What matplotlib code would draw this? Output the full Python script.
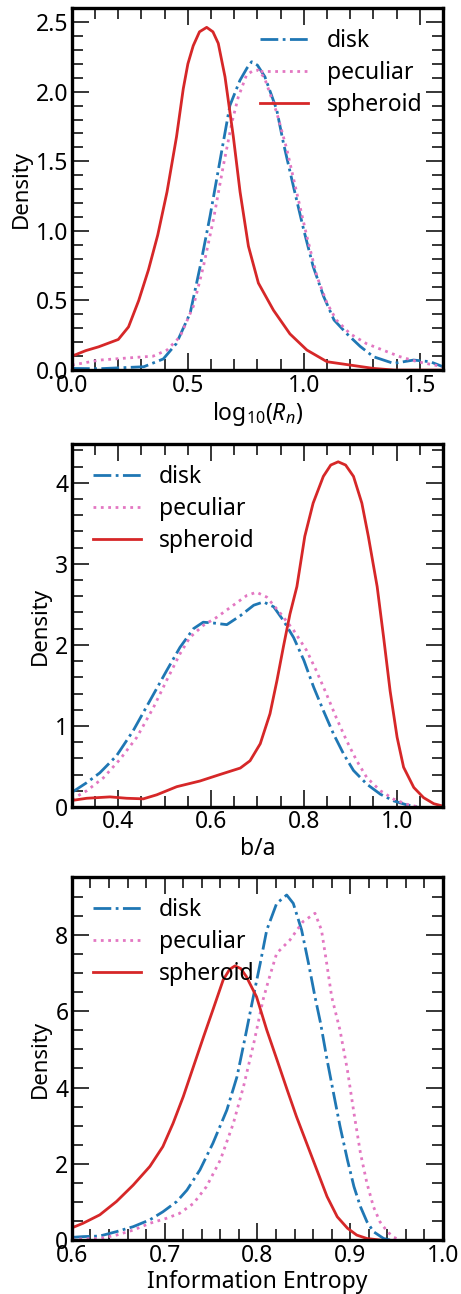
import matplotlib
matplotlib.use("Agg")
import matplotlib.pyplot as plt
from matplotlib.ticker import MultipleLocator, FormatStrFormatter

plt.rcParams['font.family'] = ['Noto Sans', 'DejaVu Sans']
plt.rcParams['mathtext.fontset'] = 'custom'
plt.rcParams['mathtext.rm'] = 'Noto Sans'
plt.rcParams['mathtext.it'] = 'Noto Sans:italic'

labels = ["disk", "peculiar", "spheroid"]
colors = ["#1f77b4", "#e377c2", "#d62728"]
styles = ["-.", ":", "-"]

# Panel 1: log10(Rn)
rn_sph_x = [0.0, 0.06, 0.115, 0.2, 0.244, 0.288, 0.33, 0.37, 0.41, 0.451, 0.48, 0.50, 0.523, 0.55, 0.581, 0.608, 0.631, 0.66, 0.696, 0.725, 0.761, 0.804, 0.869, 0.94, 1.013, 1.1, 1.2, 1.3, 1.39, 1.6]
rn_sph_y = [0.10, 0.14, 0.167, 0.22, 0.31, 0.50, 0.72, 0.97, 1.28, 1.676, 2.02, 2.20, 2.33, 2.43, 2.462, 2.43, 2.347, 2.107, 1.676, 1.28, 0.89, 0.625, 0.43, 0.26, 0.144, 0.06, 0.036, 0.012, 0.0, 0.0]
rn_disk_x = [0.0, 0.12, 0.31, 0.394, 0.45, 0.51, 0.553, 0.596, 0.639, 0.681, 0.724, 0.755, 0.775, 0.80, 0.832, 0.883, 0.912, 0.955, 0.999, 1.04, 1.085, 1.13, 1.186, 1.243, 1.30, 1.387, 1.473, 1.545, 1.6]
rn_disk_y = [0.012, 0.01, 0.024, 0.08, 0.19, 0.41, 0.745, 1.11, 1.51, 1.90, 2.08, 2.17, 2.215, 2.19, 2.107, 1.87, 1.63, 1.32, 1.01, 0.745, 0.53, 0.36, 0.26, 0.17, 0.096, 0.048, 0.072, 0.06, 0.024]
rn_pec_x = [0.0, 0.12, 0.265, 0.35, 0.41, 0.466, 0.524, 0.567, 0.61, 0.653, 0.690, 0.717, 0.753, 0.78, 0.803, 0.83, 0.883, 0.926, 0.97, 1.013, 1.057, 1.10, 1.14, 1.2, 1.27, 1.34, 1.415, 1.49, 1.6]
rn_pec_y = [0.036, 0.072, 0.09, 0.10, 0.144, 0.24, 0.46, 0.745, 1.08, 1.47, 1.78, 1.96, 2.12, 2.15, 2.155, 2.10, 1.85, 1.59, 1.27, 0.96, 0.67, 0.48, 0.36, 0.26, 0.19, 0.144, 0.096, 0.06, 0.024]

# Panel 2: b/a
ba_sph_x = [0.3, 0.332, 0.382, 0.418, 0.454, 0.483, 0.526, 0.576, 0.619, 0.663, 0.684, 0.706, 0.727, 0.742, 0.756, 0.77, 0.785, 0.802, 0.820, 0.842, 0.858, 0.874, 0.89, 0.907, 0.925, 0.939, 0.958, 0.972, 0.986, 1.001, 1.015, 1.037, 1.058, 1.08, 1.1]
ba_sph_y = [0.08, 0.107, 0.124, 0.107, 0.10, 0.15, 0.25, 0.32, 0.40, 0.48, 0.57, 0.78, 1.15, 1.56, 1.98, 2.38, 2.72, 3.34, 3.75, 4.08, 4.22, 4.26, 4.22, 4.08, 3.75, 3.34, 2.72, 2.09, 1.43, 0.86, 0.49, 0.24, 0.115, 0.04, 0.01]
ba_disk_x = [0.3, 0.332, 0.36, 0.396, 0.432, 0.468, 0.504, 0.533, 0.562, 0.583, 0.605, 0.634, 0.663, 0.692, 0.713, 0.735, 0.756, 0.778, 0.8, 0.821, 0.842, 0.864, 0.886, 0.907, 0.936, 0.965, 0.994, 1.022, 1.044]
ba_disk_y = [0.18, 0.30, 0.42, 0.63, 0.94, 1.31, 1.68, 1.97, 2.20, 2.28, 2.27, 2.25, 2.36, 2.49, 2.53, 2.47, 2.30, 2.09, 1.81, 1.48, 1.19, 0.90, 0.65, 0.45, 0.28, 0.157, 0.074, 0.025, 0.0]
ba_pec_x = [0.3, 0.332, 0.368, 0.404, 0.44, 0.476, 0.504, 0.533, 0.554, 0.583, 0.612, 0.648, 0.677, 0.698, 0.72, 0.748, 0.778, 0.806, 0.827, 0.849, 0.87, 0.892, 0.914, 0.936, 0.965, 0.994, 1.022, 1.044]
ba_pec_y = [0.095, 0.20, 0.36, 0.59, 0.86, 1.23, 1.56, 1.89, 2.09, 2.24, 2.34, 2.49, 2.61, 2.65, 2.59, 2.40, 2.18, 1.93, 1.68, 1.39, 1.10, 0.82, 0.57, 0.36, 0.20, 0.095, 0.033, 0.004]

# Panel 3: Information Entropy
ie_sph_x = [0.6, 0.612, 0.63, 0.648, 0.666, 0.684, 0.698, 0.709, 0.72, 0.731, 0.742, 0.752, 0.763, 0.770, 0.7757, 0.782, 0.788, 0.799, 0.81, 0.821, 0.832, 0.842, 0.853, 0.864, 0.875, 0.886, 0.897, 0.907, 0.918, 0.932]
ie_sph_y = [0.32, 0.44, 0.66, 1.01, 1.44, 1.93, 2.45, 3.06, 3.76, 4.55, 5.34, 6.04, 6.82, 7.10, 7.19, 7.12, 6.91, 6.38, 5.51, 4.73, 3.94, 3.24, 2.54, 1.84, 1.14, 0.61, 0.31, 0.13, 0.04, 0.0]
ie_disk_x = [0.6, 0.612, 0.63, 0.648, 0.666, 0.684, 0.698, 0.713, 0.724, 0.738, 0.752, 0.767, 0.778, 0.787, 0.7955, 0.803, 0.810, 0.8207, 0.8315, 0.8386, 0.8476, 0.855, 0.862, 0.868, 0.875, 0.882, 0.889, 0.897, 0.904, 0.911, 0.918, 0.925, 0.936, 0.943]
ie_disk_y = [0.07, 0.09, 0.105, 0.22, 0.35, 0.53, 0.74, 1.01, 1.31, 1.84, 2.54, 3.41, 4.29, 5.35, 6.38, 7.26, 8.13, 8.83, 9.05, 8.83, 8.13, 7.26, 6.38, 5.69, 4.73, 3.85, 2.98, 2.10, 1.40, 0.875, 0.48, 0.22, 0.04, 0.0]
ie_pec_x = [0.6, 0.63, 0.648, 0.666, 0.684, 0.702, 0.716, 0.731, 0.745, 0.76, 0.774, 0.785, 0.796, 0.806, 0.812, 0.8207, 0.835, 0.849, 0.862, 0.869, 0.8746, 0.88, 0.889, 0.897, 0.904, 0.911, 0.918, 0.925, 0.932, 0.94, 0.947, 0.954]
ie_pec_y = [0.02, 0.04, 0.13, 0.26, 0.44, 0.57, 0.70, 0.96, 1.40, 2.10, 3.06, 4.03, 5.16, 6.30, 6.82, 7.52, 7.87, 8.35, 8.57, 8.13, 7.26, 6.38, 5.50, 4.45, 3.33, 2.28, 1.49, 0.875, 0.48, 0.22, 0.07, 0.0]

panels = [
    dict(series=[(rn_disk_x, rn_disk_y), (rn_pec_x, rn_pec_y), (rn_sph_x, rn_sph_y)],
         xlim=(0.0, 1.6), xlabel=r"$\mathrm{log}_{10}(R_n)$", xmaj=0.5, xmin=0.1,
         ymaj=0.5, ymin=0.1, ytop=2.6, yfmt="%.1f", xfmt="%.1f", legloc="upper right",
         pos=[0.156, 0.714, 0.805, 0.2797]),
    dict(series=[(ba_disk_x, ba_disk_y), (ba_pec_x, ba_pec_y), (ba_sph_x, ba_sph_y)],
         xlim=(0.3, 1.1), xlabel="b/a", xmaj=0.2, xmin=0.05,
         ymaj=1, ymin=0.2, ytop=4.48, yfmt="%d", xfmt="%.1f", legloc="upper left",
         pos=[0.156, 0.3764, 0.805, 0.2805]),
    dict(series=[(ie_disk_x, ie_disk_y), (ie_pec_x, ie_pec_y), (ie_sph_x, ie_sph_y)],
         xlim=(0.6, 1.0), xlabel="Information Entropy", xmaj=0.1, xmin=0.02,
         ymaj=2, ymin=0.5, ytop=9.52, yfmt="%d", xfmt="%.1f", legloc="upper left",
         pos=[0.156, 0.0417, 0.805, 0.2805]),
]

fig = plt.figure(figsize=(4.61, 12.94), dpi=100)
for p in panels:
    ax = fig.add_axes(p["pos"])
    for (xs, ys), lab, c, ls in zip(p["series"], labels, colors, styles):
        ax.plot(xs, ys, ls, color=c, lw=2.0, label=lab)
    ax.set_xlim(*p["xlim"])
    ax.set_ylim(0, p["ytop"])
    ax.xaxis.set_major_locator(MultipleLocator(p["xmaj"]))
    ax.xaxis.set_minor_locator(MultipleLocator(p["xmin"]))
    ax.yaxis.set_major_locator(MultipleLocator(p["ymaj"]))
    ax.yaxis.set_minor_locator(MultipleLocator(p["ymin"]))
    ax.xaxis.set_major_formatter(FormatStrFormatter(p["xfmt"]))
    ax.yaxis.set_major_formatter(FormatStrFormatter(p["yfmt"]))
    ax.tick_params(which="both", direction="in", top=True, right=True, labelsize=16.5)
    ax.tick_params(which="major", length=12.5, width=1.1, pad=2.5)
    ax.tick_params(which="minor", length=8, width=1.1)
    for s in ax.spines.values():
        s.set_linewidth(2.4)
    ax.set_xlabel(p["xlabel"], fontsize=16.5, labelpad=2)
    ax.set_ylabel("Density", fontsize=16, labelpad=3)
    ax.legend(loc=p["legloc"], frameon=False, fontsize=16.5, handlelength=2.1,
              handletextpad=0.8, labelspacing=0.35, borderaxespad=0.5)

fig.savefig("out.png", dpi=100)
